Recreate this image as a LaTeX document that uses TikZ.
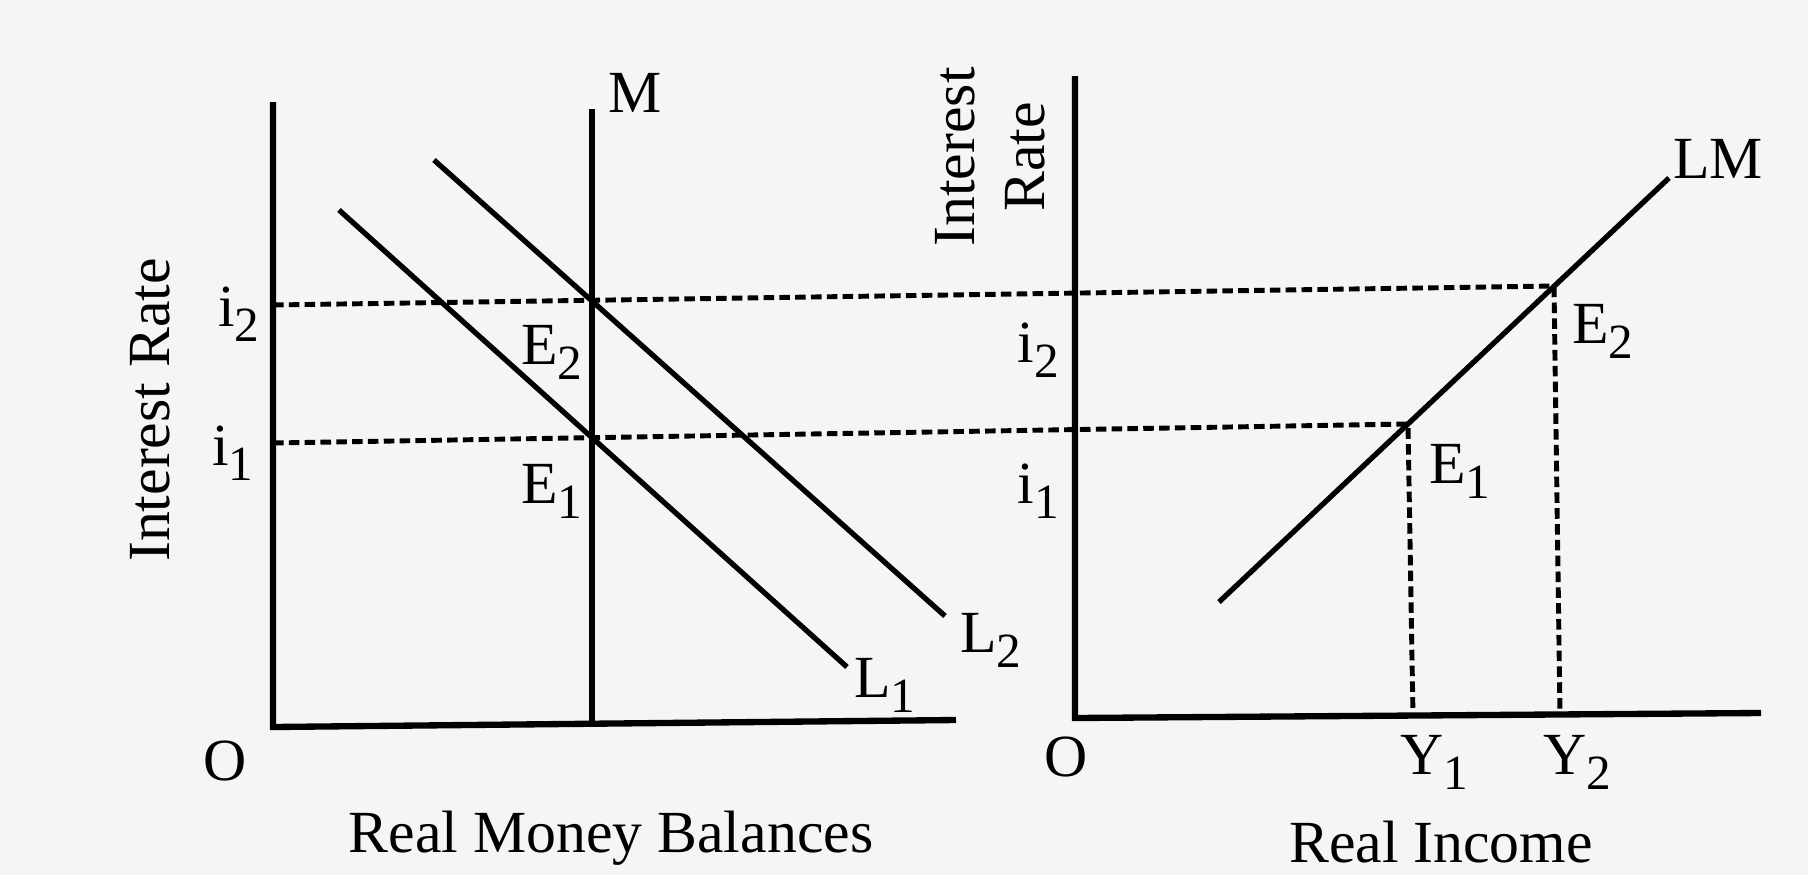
\documentclass[tikz,border=0pt]{standalone}
\usepackage{fontspec}
\setmainfont{Liberation Serif}
\usepackage{tikz}
\newcommand{\sbs}[2]{#1\raisebox{-0.55ex}{\fontsize{14}{14}\selectfont #2}}

\begin{document}
\begin{tikzpicture}[x=0.01cm, y=-0.01cm,
  ax/.style={line width=1.8pt},
  crv/.style={line width=1.5pt},
  gd/.style={line width=1.4pt, dash pattern=on 3pt off 1.5pt},
  lb/.style={font=\fontsize{17}{20}\selectfont, inner sep=0pt}]
\fill[black!4] (0,0) rectangle (1808,875);
\useasboundingbox (0,0) rectangle (1808,875);
\coordinate (oL) at (273,727); \coordinate (yL) at (273,102); \coordinate (xL) at (956,720);
\coordinate (mB) at (592,725); \coordinate (mT) at (592,109);
\coordinate (l1a) at (339,210); \coordinate (l1b) at (847,667);
\coordinate (l2a) at (434,160); \coordinate (l2b) at (945,616);
\coordinate (i2L) at (273,305); \coordinate (i1L) at (273,443);
\coordinate (oR) at (1075,718); \coordinate (yR) at (1075,76); \coordinate (xR) at (1761,713);
\coordinate (lma) at (1219,602); \coordinate (lmb) at (1669,178);
\coordinate (e1R) at (1408,424); \coordinate (e2R) at (1554,286);
\coordinate (y1) at (1413,716); \coordinate (y2) at (1560,714);
\draw[gd] (i2L) -- (e2R) -- (y2);
\draw[gd] (i1L) -- (e1R) -- (y1);
\draw[ax] (yL) -- (oL) -- (xL);
\draw[ax] (mT) -- (mB);
\draw[crv] (l1a) -- (l1b);
\draw[crv] (l2a) -- (l2b);
\draw[ax] (yR) -- (oR) -- (xR);
\draw[crv] (lma) -- (lmb);
\node[lb] (oLl) at (225,761) {O};
\node[lb] (mlb) at (635,93) {M};
\node[lb] (l1lb) at (885,685) {\sbs{L}{1}};
\node[lb] (l2lb) at (991,640) {\sbs{L}{2}};
\node[lb] (i2lb) at (239,314) {\sbs{i}{2}};
\node[lb] (i1lb) at (233,453) {\sbs{i}{1}};
\node[lb] (e2lb) at (552,352) {\sbs{E}{2}};
\node[lb] (e1lb) at (552,491) {\sbs{E}{1}};
\node[lb, rotate=90] (irL) at (150,410) {Interest Rate};
\node[lb] (rmb) at (611,838) {Real Money Balances};
\node[lb] (oRl) at (1066,757) {O};
\node[lb, rotate=90, align=center] (irR) at (990,157) {Interest\\Rate};
\node[lb] (lmlb) at (1718,159) {LM};
\node[lb] (i2r) at (1038,350) {\sbs{i}{2}};
\node[lb] (i1r) at (1038,491) {\sbs{i}{1}};
\node[lb] (e2r) at (1603,331) {\sbs{E}{2}};
\node[lb] (e1r) at (1460,471) {\sbs{E}{1}};
\node[lb] (y1lb) at (1434,762) {\sbs{Y}{1}};
\node[lb] (y2lb) at (1577,762) {\sbs{Y}{2}};
\node[lb] (ri) at (1441,842) {Real Income};
\end{tikzpicture}
\end{document}
